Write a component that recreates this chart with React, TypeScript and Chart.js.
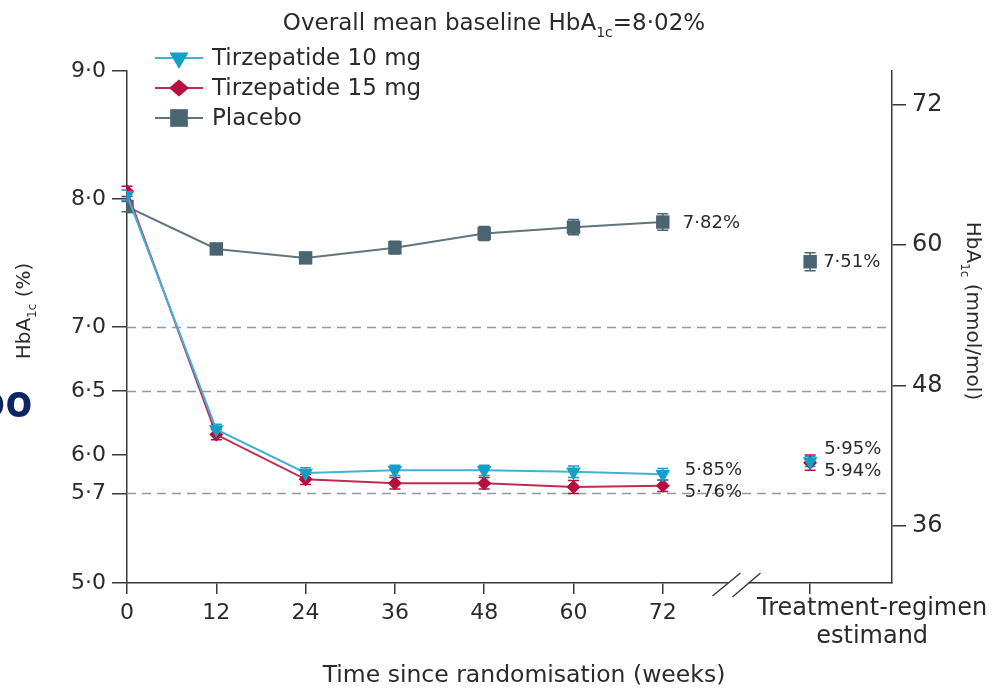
import React, { useEffect, useRef } from "react";
import { Chart, registerables } from "chart.js";

Chart.register(...registerables);

const FONT = "'DejaVu Sans', 'Noto Sans', sans-serif";
const TEXT = "#2b2b2b";

// Weeks since randomisation and the treatment-regimen estimand slot
const WEEKS = [0, 12, 24, 36, 48, 60, 72];
const ESTIMAND_X = 91.8;
const BREAK_X = 81.9;
const X_MAX = 102.8;
const BASELINE = 8.02;
const ESTIMAND_LABEL = ["Treatment-regimen", "estimand"];

// HbA1c (%) — least-squares means with standard errors
const TIRZ10 = [8.03, 6.2, 5.86, 5.88, 5.88, 5.87, 5.85];
const TIRZ10_ERR = [0.04, 0.04, 0.04, 0.04, 0.04, 0.045, 0.045];
const TIRZ15 = [8.06, 6.16, 5.81, 5.78, 5.78, 5.75, 5.76];
const TIRZ15_ERR = [0.04, 0.04, 0.04, 0.045, 0.045, 0.05, 0.045];
const PLACEBO = [7.94, 7.61, 7.54, 7.62, 7.73, 7.78, 7.82];
const PLACEBO_ERR = [0.04, 0.035, 0.04, 0.05, 0.055, 0.06, 0.065];

const EST_TIRZ10 = [5.95];
const EST_TIRZ10_ERR = [0.04];
const EST_TIRZ15 = [5.94];
const EST_TIRZ15_ERR = [0.06];
const EST_PLACEBO = [7.51];
const EST_PLACEBO_ERR = [0.07];

// Axis ticks
const PCT_TICKS = [5.0, 5.7, 6.0, 6.5, 7.0, 8.0, 9.0];
const MMOL_TICKS = [36, 48, 60, 72];
const X_TICKS = [0, 12, 24, 36, 48, 60, 72];
const REFERENCE_LINES = [7.0, 6.5, 5.7];

const PCT_MIN = 5;
const PCT_MAX = 9;
// IFCC (mmol/mol) from NGSP (%)
const toMmol = (p: number) => (p - 2.15) * 10.929;

const CYAN = "#139fc6";
const CYAN_LINE = "#3fb3d6";
const RED = "#b50f3e";
const RED_LINE = "#c42a50";
const SLATE = "#4a6470";
const SLATE_LINE = "#60757e";

const dot = (v: number, d: number) => v.toFixed(d).replace(".", "\u00b7");

const ERRORS = [TIRZ10_ERR, TIRZ15_ERR, PLACEBO_ERR, EST_TIRZ10_ERR, EST_TIRZ15_ERR, EST_PLACEBO_ERR];

type Part = { t: string; sub?: boolean };

function drawRich(ctx: CanvasRenderingContext2D, parts: Part[], x: number, y: number, size: number, color: string) {
  const subSize = Math.round(size * 0.62);
  const widths = parts.map((p) => {
    ctx.font = `${p.sub ? subSize : size}px ${FONT}`;
    return ctx.measureText(p.t).width;
  });
  const total = widths.reduce((a, b) => a + b, 0);
  let cx = x - total / 2;
  const base = y + size * 0.36;
  ctx.fillStyle = color;
  ctx.textAlign = "left";
  ctx.textBaseline = "alphabetic";
  parts.forEach((p, i) => {
    ctx.font = `${p.sub ? subSize : size}px ${FONT}`;
    ctx.fillText(p.t, cx, p.sub ? base + size * 0.28 : base);
    cx += widths[i];
  });
}

function fillMarker(ctx: CanvasRenderingContext2D, style: string, x: number, y: number, r: number, color: string) {
  ctx.beginPath();
  if (style === "triangle") {
    ctx.moveTo(x - r * 0.866, y - r * 0.5);
    ctx.lineTo(x + r * 0.866, y - r * 0.5);
    ctx.lineTo(x, y + r);
  } else if (style === "rectRot") {
    ctx.moveTo(x - r, y);
    ctx.lineTo(x, y - r * 0.85);
    ctx.lineTo(x + r, y);
    ctx.lineTo(x, y + r * 0.85);
  } else {
    const s = r * Math.SQRT1_2;
    ctx.rect(x - s, y - s, 2 * s, 2 * s);
  }
  ctx.closePath();
  ctx.fillStyle = color;
  ctx.fill();
}

const referenceLines = {
  id: "referenceLines",
  beforeDatasetsDraw(chart: any) {
    const { ctx, chartArea, scales } = chart;
    ctx.save();
    ctx.strokeStyle = "#8a9ca4";
    ctx.lineWidth = 1.5;
    ctx.setLineDash([9, 6]);
    REFERENCE_LINES.forEach((v) => {
      const y = Math.round(scales.y.getPixelForValue(v)) + 0.5;
      ctx.beginPath();
      ctx.moveTo(chartArea.left, y);
      ctx.lineTo(chartArea.right, y);
      ctx.stroke();
    });
    ctx.restore();
  },
};

const errorBars = {
  id: "errorBars",
  beforeDatasetsDraw(chart: any) {
    const { ctx, scales } = chart;
    ctx.save();
    ctx.lineWidth = 1.5;
    for (let i = chart.data.datasets.length - 1; i >= 0; i--) {
      const ds = chart.data.datasets[i];
      const meta = chart.getDatasetMeta(i);
      const errs = ERRORS[i];
      ctx.strokeStyle = ds.pointBackgroundColor;
      meta.data.forEach((pt: any, j: number) => {
        const v = ds.data[j].y;
        const top = scales.y.getPixelForValue(v + errs[j]);
        const bot = scales.y.getPixelForValue(v - errs[j]);
        ctx.beginPath();
        ctx.moveTo(pt.x, top);
        ctx.lineTo(pt.x, bot);
        ctx.moveTo(pt.x - 5.5, top);
        ctx.lineTo(pt.x + 5.5, top);
        ctx.moveTo(pt.x - 5.5, bot);
        ctx.lineTo(pt.x + 5.5, bot);
        ctx.stroke();
      });
    }
    ctx.restore();
  },
};

// Value annotations: dataset index, point index, offset from the point
const VALUE_NOTES = [
  { ds: 2, idx: 6, dx: 20, dy: 1 },
  { ds: 5, idx: 0, dx: 13, dy: 1 },
  { ds: 0, idx: 6, dx: 22, dy: -4 },
  { ds: 1, idx: 6, dx: 22, dy: 7 },
  { ds: 3, idx: 0, dx: 14, dy: -12 },
  { ds: 4, idx: 0, dx: 14, dy: 9 },
];

const valueLabels = {
  id: "valueLabels",
  afterDatasetsDraw(chart: any) {
    const { ctx } = chart;
    ctx.save();
    ctx.font = `18px ${FONT}`;
    ctx.fillStyle = TEXT;
    ctx.textAlign = "left";
    ctx.textBaseline = "middle";
    VALUE_NOTES.forEach((n) => {
      const pt = chart.getDatasetMeta(n.ds).data[n.idx];
      const v = chart.data.datasets[n.ds].data[n.idx].y;
      ctx.fillText(dot(v, 2) + "%", pt.x + n.dx, pt.y + n.dy);
    });
    ctx.restore();
  },
};

// legend marker sizes (larger than the plotted markers)
const LEGEND_RADIUS = [11, 10, 12.5];

const decorations = {
  id: "decorations",
  afterDraw(chart: any) {
    const { ctx, chartArea, scales } = chart;
    ctx.save();

    // axis break on the time axis
    const bx = scales.x.getPixelForValue(BREAK_X);
    const by = chartArea.bottom;
    ctx.fillStyle = "#fff";
    ctx.fillRect(bx - 8, by - 3, 20, 6);
    ctx.strokeStyle = "#3a3a3a";
    ctx.lineWidth = 1.5;
    ctx.beginPath();
    ctx.moveTo(bx - 24, by + 13);
    ctx.lineTo(bx + 4, by - 10);
    ctx.moveTo(bx - 4, by + 14);
    ctx.lineTo(bx + 24, by - 10);
    ctx.stroke();

    // estimand category label
    const ex = scales.x.getPixelForValue(ESTIMAND_X) + 62;
    ctx.font = `24px ${FONT}`;
    ctx.fillStyle = TEXT;
    ctx.textAlign = "center";
    ctx.textBaseline = "middle";
    ESTIMAND_LABEL.forEach((line, i) => ctx.fillText(line, ex, by + 26 + i * 28));

    // legend
    for (let i = 0; i < 3; i++) {
      const ds = chart.data.datasets[i];
      const y = 58 + i * 30;
      ctx.strokeStyle = ds.borderColor;
      ctx.lineWidth = 2;
      ctx.beginPath();
      ctx.moveTo(155, y);
      ctx.lineTo(203, y);
      ctx.stroke();
      fillMarker(ctx, ds.pointStyle, 179, y, LEGEND_RADIUS[i], ds.pointBackgroundColor);
      ctx.font = `23px ${FONT}`;
      ctx.fillStyle = TEXT;
      ctx.textAlign = "left";
      ctx.textBaseline = "middle";
      ctx.fillText(ds.label, 212, y + 1);
    }

    // heading
    drawRich(
      ctx,
      [{ t: "Overall mean baseline HbA" }, { t: "1c", sub: true }, { t: "=" + dot(BASELINE, 2) + "%" }],
      494,
      22,
      23,
      TEXT
    );

    // axis titles
    ctx.save();
    ctx.translate(23, 311);
    ctx.rotate(-Math.PI / 2);
    drawRich(ctx, [{ t: "HbA" }, { t: "1c", sub: true }, { t: " (%)" }], 0, 0, 20, TEXT);
    ctx.restore();

    ctx.save();
    ctx.translate(974, 311);
    ctx.rotate(Math.PI / 2);
    drawRich(ctx, [{ t: "HbA" }, { t: "1c", sub: true }, { t: " (mmol/mol)" }], 0, 0, 20, TEXT);
    ctx.restore();

    ctx.font = `23.5px ${FONT}`;
    ctx.fillStyle = TEXT;
    ctx.textAlign = "center";
    ctx.textBaseline = "middle";
    ctx.fillText("Time since randomisation (weeks)", 524, 676);

    ctx.restore();
  },
};

const pts = (xs: number[], ys: number[]) => xs.map((x, i) => ({ x, y: ys[i] }));

const makeSeries = (
  label: string,
  data: { x: number; y: number }[],
  line: string,
  fill: string,
  style: string,
  radius: number,
  showLine: boolean
) => ({
  label,
  data,
  borderColor: line,
  backgroundColor: fill,
  pointBackgroundColor: fill,
  pointBorderColor: fill,
  pointBorderWidth: 0,
  pointStyle: style,
  pointRotation: style === "triangle" ? 180 : 0,
  pointRadius: radius,
  borderWidth: 2,
  showLine,
  tension: 0,
  yAxisID: "y",
});

const axisColor = "#3a3a3a";

export default function App() {
  const ref = useRef<HTMLCanvasElement>(null);

  useEffect(() => {
    const chart = new Chart(ref.current as HTMLCanvasElement, {
      type: "line",
      data: {
        datasets: [
          makeSeries("Tirzepatide 10 mg", pts(WEEKS, TIRZ10), CYAN_LINE, CYAN, "triangle", 8.5, true),
          makeSeries("Tirzepatide 15 mg", pts(WEEKS, TIRZ15), RED_LINE, RED, "rectRot", 7, true),
          makeSeries("Placebo", pts(WEEKS, PLACEBO), SLATE_LINE, SLATE, "rect", 9.5, true),
          makeSeries("Tirzepatide 10 mg (estimand)", pts([ESTIMAND_X], EST_TIRZ10), CYAN_LINE, CYAN, "triangle", 8.5, false),
          makeSeries("Tirzepatide 15 mg (estimand)", pts([ESTIMAND_X], EST_TIRZ15), RED_LINE, RED, "rectRot", 7, false),
          makeSeries("Placebo (estimand)", pts([ESTIMAND_X], EST_PLACEBO), SLATE_LINE, SLATE, "rect", 9.5, false),
        ] as any,
      },
      options: {
        animation: false,
        responsive: false,
        devicePixelRatio: 1,
        events: [],
        layout: { padding: { top: 71, left: 0, right: 0, bottom: 0 } },
        plugins: {
          legend: { display: false },
          title: { display: false },
          tooltip: { enabled: false },
        },
        scales: {
          x: {
            type: "linear",
            min: 0,
            max: X_MAX,
            afterBuildTicks: (axis: any) => {
              axis.ticks = [...X_TICKS, ESTIMAND_X].map((value) => ({ value }));
            },
            afterFit: (axis: any) => {
              axis.height = 110;
            },
            ticks: {
              autoSkip: false,
              maxRotation: 0,
              padding: 6,
              color: TEXT,
              font: { family: FONT, size: 22 },
              callback: (v: any) => (v === ESTIMAND_X ? "" : String(v)),
            },
            grid: { drawOnChartArea: false, drawTicks: true, tickLength: 11, color: axisColor, lineWidth: 1.5 },
            border: { display: true, color: axisColor, width: 1.5 },
          },
          y: {
            type: "linear",
            position: "left",
            min: PCT_MIN,
            max: PCT_MAX,
            afterBuildTicks: (axis: any) => {
              axis.ticks = PCT_TICKS.map((value) => ({ value }));
            },
            afterFit: (axis: any) => {
              axis.width = 127;
            },
            ticks: {
              padding: 6,
              color: TEXT,
              font: { family: FONT, size: 22 },
              callback: (v: any) => dot(Number(v), 1),
            },
            grid: { drawOnChartArea: false, drawTicks: true, tickLength: 15, color: axisColor, lineWidth: 1.5 },
            border: { display: true, color: axisColor, width: 1.5 },
          },
          y2: {
            type: "linear",
            position: "right",
            min: toMmol(PCT_MIN),
            max: toMmol(PCT_MAX),
            afterBuildTicks: (axis: any) => {
              axis.ticks = MMOL_TICKS.map((value) => ({ value }));
            },
            afterFit: (axis: any) => {
              axis.width = 108;
            },
            ticks: {
              padding: 6,
              color: TEXT,
              font: { family: FONT, size: 24 },
              callback: (v: any) => String(v),
            },
            grid: { drawOnChartArea: false, drawTicks: true, tickLength: 14, color: axisColor, lineWidth: 1.5 },
            border: { display: true, color: axisColor, width: 1.5 },
          },
        },
      } as any,
      plugins: [referenceLines, errorBars, valueLabels, decorations],
    });
    return () => chart.destroy();
  }, []);

  return (
    <div
      style={{
        position: "absolute",
        left: 0,
        top: 0,
        width: 1000,
        height: 693,
        background: "#fff",
        overflow: "hidden",
      }}
    >
      <canvas ref={ref} width={1000} height={693} style={{ display: "block", width: 1000, height: 693 }} />
      <div
        style={{
          position: "absolute",
          left: -22,
          top: 378,
          font: "bold 44px 'Open Sans', sans-serif",
          color: "#0d2466",
          lineHeight: 1,
        }}
      >
        oo
      </div>
    </div>
  );
}
